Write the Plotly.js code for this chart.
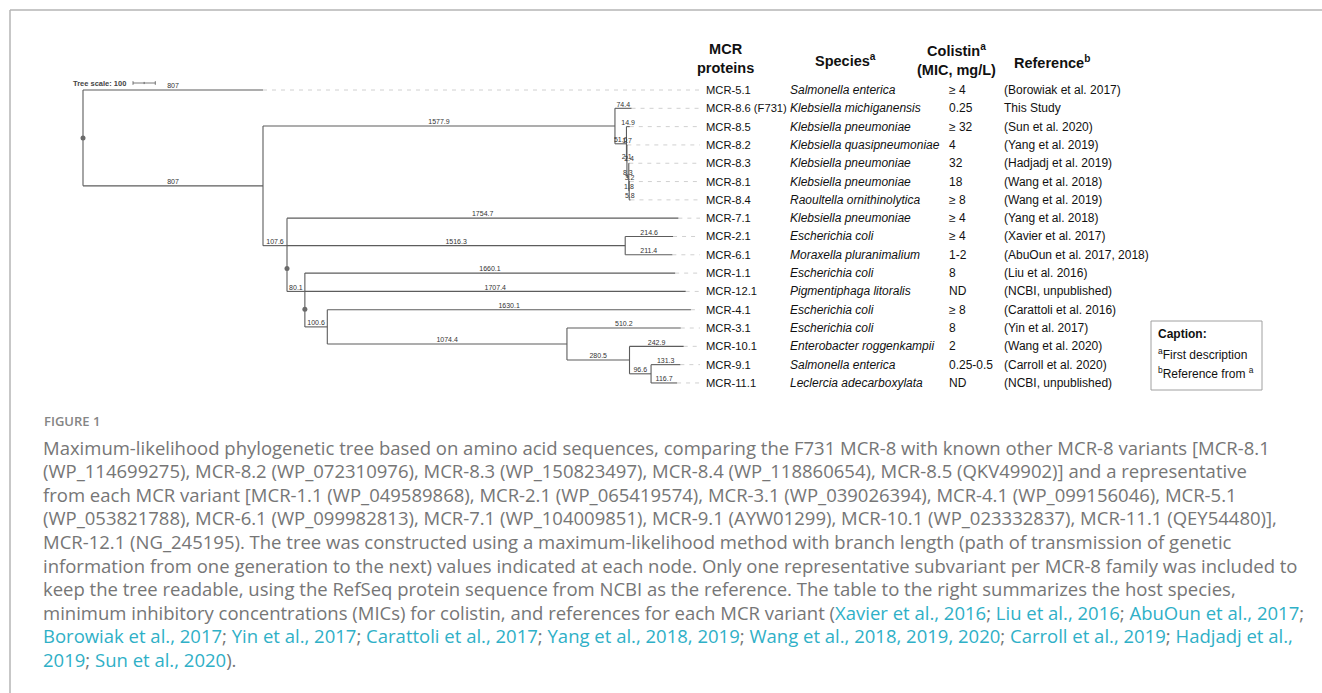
<!DOCTYPE html>
<html><head><meta charset="utf-8">
<script src="https://cdn.plot.ly/plotly-3.0.1.min.js"></script>
<style>html,body{margin:0;padding:0;background:#fff;} #chart{width:1322px;height:693px;}</style>
</head><body><div id="chart"></div>
<script>
// ---------------- data ----------------
const leafNames = ['MCR-5.1','MCR-8.6 (F731)','MCR-8.5','MCR-8.2','MCR-8.3','MCR-8.1','MCR-8.4','MCR-7.1','MCR-2.1','MCR-6.1','MCR-1.1','MCR-12.1','MCR-4.1','MCR-3.1','MCR-10.1','MCR-9.1','MCR-11.1'];
const leafParent = ['root','M8','B','B2','C','D','D','N','P','P','Q','Q','R','S','T','U','U'];
const leafBranch = [807,74.4,14.9,1.7,2.4,3.2,5.8,1754.7,214.6,211.4,1660.1,1707.4,1630.1,510.2,242.9,131.3,116.7];
const nodeNames  = ['root','A','M8','B','B2','C','D','N','P','Q','R','S','T','U'];
const nodeParent = [null,'root','A','M8','B','B2','C','A','N','N','Q','R','S','T'];
const nodeBranch = [0,807,1577.9,51.6,2.1,8.3,1.8,107.6,1516.3,80.1,100.6,1074.4,280.5,96.6];
const markedNodes = ['root','N','Q'];
const species = ['Salmonella enterica','Klebsiella michiganensis','Klebsiella pneumoniae','Klebsiella quasipneumoniae','Klebsiella pneumoniae','Klebsiella pneumoniae','Raoultella ornithinolytica','Klebsiella pneumoniae','Escherichia coli','Moraxella pluranimalium','Escherichia coli','Pigmentiphaga litoralis','Escherichia coli','Escherichia coli','Enterobacter roggenkampii','Salmonella enterica','Leclercia adecarboxylata'];
const colistinMIC = ['≥ 4','0.25','≥ 32','4','32','18','≥ 8','≥ 4','≥ 4','1-2','8','ND','≥ 8','8','2','0.25-0.5','ND'];
const references = ['(Borowiak et al. 2017)','This Study','(Sun et al. 2020)','(Yang et al. 2019)','(Hadjadj et al. 2019)','(Wang et al. 2018)','(Wang et al. 2019)','(Yang et al. 2018)','(Xavier et al. 2017)','(AbuOun et al. 2017, 2018)','(Liu et al. 2016)','(NCBI, unpublished)','(Carattoli et al. 2016)','(Yin et al. 2017)','(Wang et al. 2020)','(Carroll et al. 2020)','(NCBI, unpublished)'];
const treeScaleLength = 100;
const tableHeaders = ['<b>MCR</b><br><b>proteins</b>','<b>Species<sup>a</sup></b>','<b>Colistin<sup>a</sup></b><br><b>(MIC, mg/L)</b>','<b>Reference<sup>b</sup></b>'];
const captionBoxLines = ['<b>Caption:</b>','<sup>a</sup>First description','<sup>b</sup>Reference from <sup>a</sup>'];
const figureLabel = 'FIGURE 1';
const L = s => '<span style="color:#2fb0c7">' + s + '</span>';
const captionLines = [
 'Maximum-likelihood phylogenetic tree based on amino acid sequences, comparing the F731 MCR-8 with known other MCR-8 variants [MCR-8.1',
 '(WP_114699275), MCR-8.2 (WP_072310976), MCR-8.3 (WP_150823497), MCR-8.4 (WP_118860654), MCR-8.5 (QKV49902)] and a representative',
 'from each MCR variant [MCR-1.1 (WP_049589868), MCR-2.1 (WP_065419574), MCR-3.1 (WP_039026394), MCR-4.1 (WP_099156046), MCR-5.1',
 '(WP_053821788), MCR-6.1 (WP_099982813), MCR-7.1 (WP_104009851), MCR-9.1 (AYW01299), MCR-10.1 (WP_023332837), MCR-11.1 (QEY54480)],',
 'MCR-12.1 (NG_245195). The tree was constructed using a maximum-likelihood method with branch length (path of transmission of genetic',
 'information from one generation to the next) values indicated at each node. Only one representative subvariant per MCR-8 family was included to',
 'keep the tree readable, using the RefSeq protein sequence from NCBI as the reference. The table to the right summarizes the host species,',
 'minimum inhibitory concentrations (MICs) for colistin, and references for each MCR variant (' + L('Xavier et al., 2016') + '; ' + L('Liu et al., 2016') + '; ' + L('AbuOun et al., 2017') + ';',
 L('Borowiak et al., 2017') + '; ' + L('Yin et al., 2017') + '; ' + L('Carattoli et al., 2017') + '; ' + L('Yang et al., 2018, 2019') + '; ' + L('Wang et al., 2018, 2019, 2020') + '; ' + L('Carroll et al., 2019') + '; ' + L('Hadjadj et al.,'),
 L('2019') + '; ' + L('Sun et al., 2020') + ').'
];

// ---------------- layout geometry ----------------
const W = 1322, H = 693;
const rootPx = 83, unitPx = 180 / 807, row0Px = 90, rowPx = 18.31;
const px = p => p / W, py = p => 1 - p / H;
const rowOfPx = p => (p - row0Px) / rowPx;
const unitOfPx = p => (p - rootPx) / unitPx;

// ---------------- build tree ----------------
const nodes = {};
nodeNames.forEach((n, i) => nodes[n] = {name: n, parent: nodeParent[i], len: nodeBranch[i], children: [], leaf: false});
leafNames.forEach((n, i) => nodes['leaf' + i] = {name: n, parent: leafParent[i], len: leafBranch[i], children: [], leaf: true, row: i});
Object.values(nodes).forEach(nd => { if (nd.parent) nodes[nd.parent].children.push(nd); });
const root = nodes['root'];
function setX(nd, x0) { nd.x = x0 + nd.len; nd.children.forEach(c => setX(c, nd.x)); }
setX(root, 0);
function setY(nd) {
  if (nd.leaf) { nd.y = nd.row; return nd.y; }
  const ys = nd.children.map(setY).sort((a, b) => a - b);
  const n = ys.length;
  nd.ys = ys;
  nd.y = n % 2 ? ys[(n - 1) / 2] : (ys[n / 2 - 1] + ys[n / 2]) / 2;
  return nd.y;
}
setY(root);

const bx = [], by = [], lx = [], ly = [], lt = [], dx = [], dy = [];
Object.values(nodes).forEach(nd => {
  if (nd.parent) {
    const p = nodes[nd.parent];
    bx.push(p.x, nd.x, null); by.push(nd.y, nd.y, null);
    lx.push((p.x + nd.x) / 2); ly.push(nd.y); lt.push(String(nd.len));
  }
  if (!nd.leaf) {
    bx.push(nd.x, nd.x, null); by.push(nd.ys[0], nd.ys[nd.ys.length - 1], null);
  }
});
const leaderEnd = unitOfPx(700);
Object.values(nodes).filter(n => n.leaf).forEach(nd => { dx.push(nd.x, leaderEnd, null); dy.push(nd.y, nd.y, null); });
const mx = [], my = [];
markedNodes.forEach(k => { const nd = nodes[k]; const n = nd.ys.length; mx.push(nd.x); my.push((nd.ys[n - 2] + nd.ys[n - 1]) / 2); });

// tree scale bar
const sbStart = unitOfPx(133), sbY = rowOfPx(83), tk = 0.1;
const sbx = [sbStart, sbStart + treeScaleLength, null, sbStart, sbStart, null, sbStart + treeScaleLength / 2, sbStart + treeScaleLength / 2, null, sbStart + treeScaleLength, sbStart + treeScaleLength];
const sby = [sbY, sbY, null, sbY - tk, sbY + tk, null, sbY - tk * 0.6, sbY + tk * 0.6, null, sbY - tk, sbY + tk];

const traces = [
  {x: dx, y: dy, mode: 'lines', line: {color: '#d0d0d0', width: 1, dash: '4px,5px'}, hoverinfo: 'skip'},
  {x: bx, y: by, mode: 'lines', line: {color: '#5c5c5c', width: 1.1}, hoverinfo: 'skip'},
  {x: mx, y: my, mode: 'markers', marker: {color: '#6a6a6a', size: 5}, hoverinfo: 'skip'},
  {x: lx, y: ly, mode: 'text', text: lt, textposition: 'top center', textfont: {family: 'Liberation Sans, Arial', size: 7, color: '#333'}, hoverinfo: 'skip'},
  {x: sbx, y: sby, mode: 'lines', line: {color: '#555', width: 0.8}, hoverinfo: 'skip'}
];

const ann = [];
const tf = (size, extra) => Object.assign({family: 'Liberation Sans, Arial, sans-serif', size: size, color: '#111'}, extra || {});
ann.push({xref: 'x', yref: 'y', x: unitOfPx(128), y: sbY, text: '<b>Tree scale: 100</b>', showarrow: false, xanchor: 'right', yanchor: 'middle', font: tf(7.5, {color: '#444'})});
// table rows
leafNames.forEach((n, i) => {
  ann.push({xref: 'paper', yref: 'y', x: px(704), y: i, text: n, showarrow: false, xanchor: 'left', yanchor: 'middle', font: tf(11.2)});
  ann.push({xref: 'paper', yref: 'y', x: px(788), y: i, text: '<i>' + species[i] + '</i>', showarrow: false, xanchor: 'left', yanchor: 'middle', font: tf(12)});
  ann.push({xref: 'paper', yref: 'y', x: px(947), y: i, text: colistinMIC[i], showarrow: false, xanchor: 'left', yanchor: 'middle', font: tf(12)});
  ann.push({xref: 'paper', yref: 'y', x: px(1002), y: i, text: references[i], showarrow: false, xanchor: 'left', yanchor: 'middle', font: tf(12)});
});
// headers
const hdrX = [725, 845, 956, 1052], hdrY = [58, 60, 60, 62];
tableHeaders.forEach((h, i) => ann.push({xref: 'paper', yref: 'paper', x: px(hdrX[i]), y: py(hdrY[i]), text: h, showarrow: false, xanchor: 'center', yanchor: 'middle', align: 'center', font: tf(14.5)}));
// caption box
const cbY = [334, 354, 373];
captionBoxLines.forEach((t, i) => ann.push({xref: 'paper', yref: 'paper', x: px(1156), y: py(cbY[i]), text: t, showarrow: false, xanchor: 'left', yanchor: 'middle', font: tf(12)}));
// figure caption
ann.push({xref: 'paper', yref: 'paper', x: px(42), y: py(421), text: figureLabel, showarrow: false, xanchor: 'left', yanchor: 'middle', font: {family: 'Open Sans, sans-serif', size: 13, color: '#858585', weight: 600}});
captionLines.forEach((t, i) => ann.push({xref: 'paper', yref: 'paper', x: px(41), y: py(447 + i * 23.6), text: t, showarrow: false, xanchor: 'left', yanchor: 'middle', align: 'left', font: {family: 'Open Sans, sans-serif', size: 18.5, color: '#767676'}}));

const shapes = [
  {type: 'line', xref: 'paper', yref: 'paper', x0: px(10), x1: 1, y0: py(10), y1: py(10), line: {color: '#b5b5b5', width: 1.5}},
  {type: 'line', xref: 'paper', yref: 'paper', x0: px(10), x1: px(10), y0: py(10), y1: 0, line: {color: '#b5b5b5', width: 1.5}},
  {type: 'rect', xref: 'paper', yref: 'paper', x0: px(1151), x1: px(1262), y0: py(321), y1: py(390), line: {color: '#a0a0a0', width: 1}}
];

const layout = {
  width: W, height: H, margin: {l: 0, r: 0, t: 0, b: 0}, paper_bgcolor: '#fff', plot_bgcolor: '#fff',
  showlegend: false,
  xaxis: {range: [-rootPx / unitPx, (W - rootPx) / unitPx], visible: false, fixedrange: true},
  yaxis: {range: [(H - row0Px) / rowPx, -row0Px / rowPx], visible: false, fixedrange: true},
  annotations: ann, shapes: shapes
};
Plotly.newPlot('chart', traces, layout, {displayModeBar: false, staticPlot: true});
</script>
</body></html>
